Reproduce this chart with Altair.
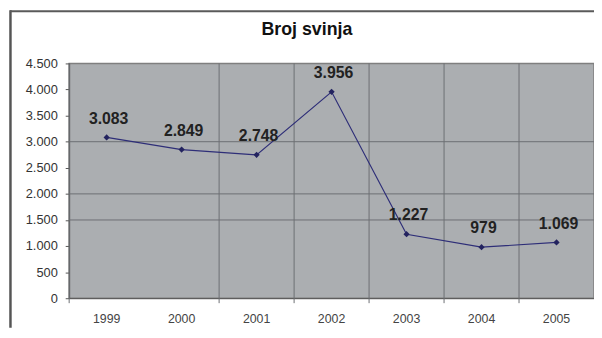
import altair as alt
import pandas as pd

years = ["1999", "2000", "2001", "2002", "2003", "2004", "2005"]
pigs = [3083, 2849, 2748, 3956, 1227, 979, 1069]
y_ticks = [0, 500, 1000, 1500, 2000, 2500, 3000, 3500, 4000, 4500]
y_grid = [1500, 2000, 3000]
x_grid_years = ["1999", "2001", "2002", "2003", "2004", "2005"]
title_text = "Broj svinja"

df = pd.DataFrame({"year": years, "pigs": pigs})
df["label"] = [f"{v:,}".replace(",", ".") for v in pigs]

FONT = "Liberation Sans"
GRID = "#6c6f73"

x_scale = alt.Scale(domain=years, paddingInner=0, paddingOuter=0)
y_scale = alt.Scale(domain=[0, 4500], nice=False, zero=True)

x_axis = alt.Axis(
    title=None, labelAngle=0, grid=False, ticks=False,
    labelPadding=15, labelFontSize=12.5, labelColor="#444",
    domainColor="#555",
)
y_axis = alt.Axis(
    title=None, values=y_ticks, grid=False,
    labelExpr="replace(format(datum.value, ','), ',', '.')",
    tickSize=4, labelPadding=8, labelFontSize=13, labelColor="#333",
    domainColor="#555", tickColor="#555",
)

x_enc = alt.X("year:O", scale=x_scale, axis=x_axis)
y_enc = alt.Y("pigs:Q", scale=y_scale, axis=y_axis)

hgrid = alt.Chart(pd.DataFrame({"v": y_grid})).mark_rule(color=GRID, strokeWidth=1).encode(
    y=alt.Y("v:Q", scale=y_scale, axis=y_axis), x=alt.value(0), x2=alt.value(532)
)
vgrid = alt.Chart(pd.DataFrame({"year": x_grid_years})).mark_rule(color=GRID, strokeWidth=1).encode(
    x=alt.X("year:O", scale=x_scale, bandPosition=0, axis=x_axis), y=alt.value(0), y2=alt.value(243)
)

base = alt.Chart(df)
line = base.mark_line(color="#2e2e78", strokeWidth=1.2).encode(x=x_enc, y=y_enc)
pts = base.mark_point(shape="diamond", filled=True, size=40, color="#23235f", opacity=1).encode(x=x_enc, y=y_enc)
labels = base.mark_text(fontWeight="bold", fontSize=16, dy=-19, dx=2, color="#222", font=FONT).encode(
    x=x_enc, y=y_enc, text="label:N"
)

one = pd.DataFrame({"t": [title_text]})
title = alt.Chart(one).mark_text(fontSize=18, fontWeight="bold", font=FONT, color="#111", baseline="middle").encode(
    x=alt.value(241), y=alt.value(-34), text="t:N"
)
left_border = alt.Chart(one).mark_rule(color="#555", strokeWidth=2.5).encode(
    x=alt.value(-59.5), y=alt.value(-54), y2=alt.value(268)
)
top_border = alt.Chart(one).mark_rule(color="#5a5a5a", strokeWidth=2).encode(
    x=alt.value(-60), x2=alt.value(532), y=alt.value(-53)
)

chart = alt.layer(hgrid, vgrid, line, pts, labels, title, left_border, top_border).properties(
    width=532, height=238,
    padding={"left": 62, "top": 54, "right": 0, "bottom": 30},
    autosize=alt.AutoSizeParams(type="none"),
    background="white",
).resolve_scale(x="shared", y="shared").configure_view(
    fill="#abaeb1", stroke="#7f7f7f", strokeWidth=1.5
).configure_axis(labelFont=FONT)

chart.save("out.html", embed_options={"renderer": "svg", "actions": False})
